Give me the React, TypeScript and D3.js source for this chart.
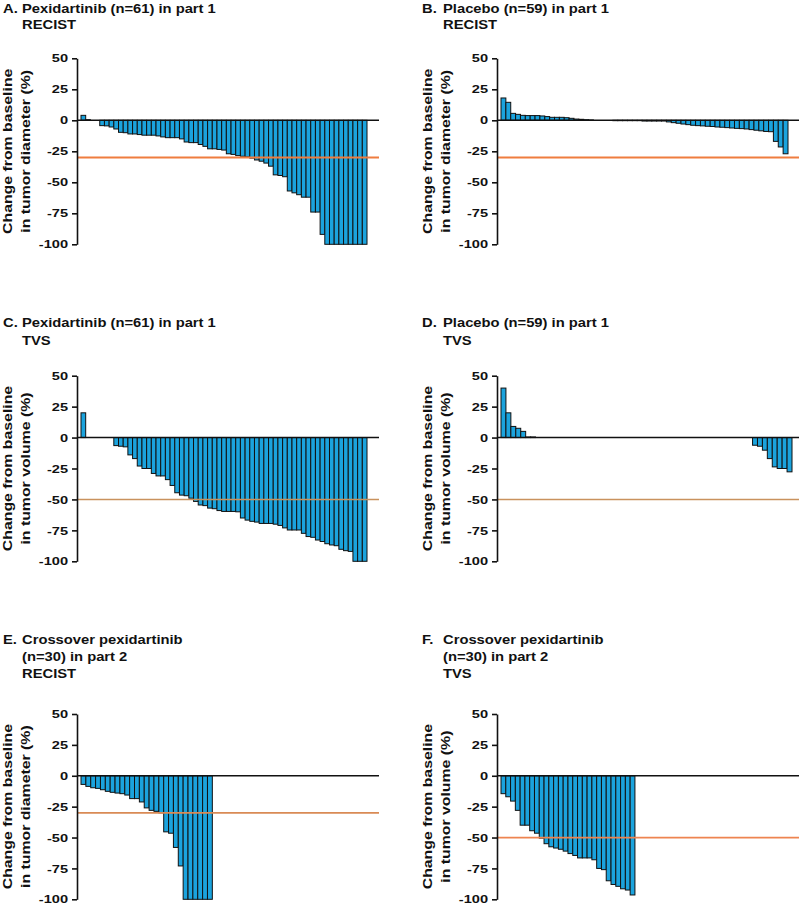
import React, { useEffect, useRef } from 'react';
import * as d3 from 'd3';

// y axis ticks shared by every panel
const yTicks = [50, 25, 0, -25, -50, -75, -100];

// A. pexidartinib, RECIST (n=61)
const pexRecist = [
  4, 0.5, 0, 0, -4.3, -4.5, -5.4, -7, -9.7, -10, -11, -11, -11.5, -12, -12, -12, -12.6, -13.4, -14, -14,
  -14, -15, -17.5, -18, -18, -19.5, -21, -23, -23, -23.5, -24, -27, -27.5, -28.5, -29, -29.5, -30.5, -32, -33, -34.5,
  -37, -44, -44.5, -45.5, -57, -58.5, -60, -62, -62, -74, -74, -92, -100, -100, -100, -100, -100, -100, -100, -100,
  -100,
];

// B. placebo, RECIST (n=59)
const plaRecist = [
  18, 14.5, 5.6, 4.8, 4, 3.8, 3.8, 3.8, 3.5, 3, 2.4, 2.4, 2.4, 2.1, 1.6, 1, 0.8, 0.5, 0.3, 0,
  0, 0, 0, -0.3, -0.3, -0.3, -0.3, -0.3, -0.3, -0.6, -0.6, -0.6, -0.6, -0.6, -1.3, -1.9, -2.4, -3, -3.5, -4,
  -4.3, -4.5, -4.8, -5, -5.4, -5.6, -5.9, -6.2, -6.5, -6.7, -7, -7.5, -8, -8.5, -9, -9.2, -17, -21.5, -27,
];

// C. pexidartinib, TVS (n=61)
const pexTvs = [
  20, 0, 0, 0, 0, 0, 0, -6.5, -7, -7.5, -14, -17, -23, -25, -25, -29, -31, -31, -34, -38.7,
  -44.6, -46.5, -47, -49, -51.6, -54.5, -55, -57, -57.5, -59, -59.7, -59.7, -59.7, -60, -65, -66.7, -67.7, -68.3, -69.4, -69.4,
  -69.4, -70, -71, -73, -74.7, -74.7, -74.7, -77.4, -80, -80.6, -82.8, -84, -85.8, -86.8, -87.4, -90.3, -91.4, -92, -100, -100,
  -100,
];

// D. placebo, TVS (n=59)
const plaTvs = [
  40, 20, 9, 7.5, 5, 0.5, 0.5, 0, 0, 0, 0, 0, 0, 0, 0, 0, 0, 0, 0, 0,
  0, 0, 0, 0, 0, 0, 0, 0, 0, 0, 0, 0, 0, 0, 0, 0, 0, 0, 0, 0,
  0, 0, 0, 0, 0, 0, 0, 0, 0, 0, 0, -6.2, -7, -10.2, -17, -23.7, -25, -25, -27.7,
];

// E. crossover, RECIST
const crossRecist = [
  -7, -8.6, -9.7, -10.2, -11.3, -12.6, -13.4, -14, -14.5, -15.6, -18.5, -18.5, -21.2, -26, -28, -28.8, -30, -45.4, -46.5, -58,
  -73, -100, -100, -100, -100, -100, -100,
];

// F. crossover, TVS
const crossTvs = [
  -14.5, -17, -20.5, -28, -40, -40, -44.5, -46.5, -50.5, -55, -57.5, -58.5, -59.5, -61, -63, -64.5, -66.5, -66.5, -66.5, -68,
  -75, -76, -85, -88, -89.5, -91.5, -92.5, -96.5,
];

const FONT = '"Liberation Sans", Arial, sans-serif';
const BAR = '#1BA3DD';

const panels = [
  { letter: 'A.', col: 0, row: 0, title: ['Pexidartinib (n=61) in part 1', 'RECIST'], label: 'in tumor diameter (%)',
    values: pexRecist, slots: 61, plotW: 286, cut: -30, cutColor: '#EF7D3F', cutW: 2 },
  { letter: 'B.', col: 1, row: 0, title: ['Placebo (n=59) in part 1', 'RECIST'], label: 'in tumor diameter (%)',
    values: plaRecist, slots: 59, plotW: 287, cut: -30, cutColor: '#EF7D3F', cutW: 2 },
  { letter: 'C.', col: 0, row: 1, title: ['Pexidartinib (n=61) in part 1', 'TVS'], label: 'in tumor volume (%)',
    values: pexTvs, slots: 61, plotW: 286, cut: -50, cutColor: '#C9925E', cutW: 1.6 },
  { letter: 'D.', col: 1, row: 1, title: ['Placebo (n=59) in part 1', 'TVS'], label: 'in tumor volume (%)',
    values: plaTvs, slots: 59, plotW: 291, cut: -50, cutColor: '#C9925E', cutW: 1.6 },
  { letter: 'E.', col: 0, row: 2, title: ['Crossover pexidartinib', '(n=30) in part 2', 'RECIST'], label: 'in tumor diameter (%)',
    values: crossRecist, slots: 59, plotW: 287, cut: -30, cutColor: '#D98A55', cutW: 1.8 },
  { letter: 'F.', col: 1, row: 2, title: ['Crossover pexidartinib', '(n=30) in part 2', 'TVS'], label: 'in tumor volume (%)',
    values: crossTvs, slots: 60, plotW: 287, cut: -50, cutColor: '#EE8450', cutW: 1.8 },
];

const axisXs = [77, 497];
const rows = [
  { top: 58.3, bottom: 244.3, titleY: [12.7, 29.3] },
  { top: 375.7, bottom: 561.3, titleY: [327.3, 344.5] },
  { top: 714, bottom: 899.3, titleY: [644.3, 661.3, 678.3] },
];

function drawPanel(svg: any, p: any) {
  const axisX = axisXs[p.col];
  const row = rows[p.row];
  const g = svg.append('g');

  const y = d3.scaleLinear().domain([-100, 50]).range([row.bottom, row.top]);
  const x = d3.scaleBand<number>()
    .domain(d3.range(p.slots))
    .range([axisX + 4, axisX + 4 + p.plotW]);

  // title
  const letterX = p.col === 0 ? 3 : 422;
  const textX = p.col === 0 ? 22 : 443;
  const hText = (tx: number, ty: number, s: string) =>
    g.append('text')
      .attr('transform', `translate(${tx},${ty}) scale(1.23,1)`)
      .attr('font-family', FONT)
      .attr('font-weight', 'bold')
      .attr('font-size', 12)
      .attr('fill', '#111')
      .text(s);
  hText(letterX, row.titleY[0], p.letter);
  p.title.forEach((line: string, i: number) => hText(textX, row.titleY[i], line));

  // y label, two lines
  const yMid = (row.top + row.bottom) / 2;
  [['Change from baseline', 64.7], [p.label, 46.8]].forEach(([s, off]: any) => {
    g.append('text')
      .attr('transform', `translate(${axisX - off},${yMid}) rotate(-90) scale(1.32,1.05)`)
      .attr('text-anchor', 'middle')
      .attr('font-family', FONT)
      .attr('font-weight', 'bold')
      .attr('font-size', 12)
      .attr('fill', '#111')
      .text(s);
  });

  // bars
  g.append('g')
    .selectAll('rect')
    .data(p.values)
    .join('rect')
    .attr('x', (d: number, i: number) => x(i))
    .attr('y', (d: number) => y(Math.max(0, d)))
    .attr('width', x.bandwidth())
    .attr('height', (d: number) => Math.abs(y(d) - y(0)))
    .attr('fill', BAR)
    .attr('stroke', '#111')
    .attr('stroke-width', 1);

  // zero line
  g.append('line')
    .attr('x1', axisX).attr('x2', axisX + 302)
    .attr('y1', y(0)).attr('y2', y(0))
    .attr('stroke', '#111').attr('stroke-width', 1.5);

  // response threshold
  g.append('line')
    .attr('x1', axisX).attr('x2', axisX + 302)
    .attr('y1', y(p.cut)).attr('y2', y(p.cut))
    .attr('stroke', p.cutColor).attr('stroke-width', p.cutW);

  // y axis
  const ax = g.append('g')
    .attr('transform', `translate(${axisX},0)`)
    .call(d3.axisLeft(y).tickValues(yTicks).tickSize(5).tickSizeOuter(0).tickFormat((d: any) => String(d)));
  ax.attr('font-family', FONT).attr('font-size', 11.5);
  ax.select('.domain').attr('stroke', '#111').attr('stroke-width', 1.6);
  ax.selectAll('.tick line').attr('stroke', '#111').attr('stroke-width', 1.6);
  ax.selectAll('.tick text')
    .attr('x', -9 / 1.27)
    .attr('transform', 'scale(1.27,1)')
    .attr('font-weight', 'bold')
    .attr('fill', '#111');
}

export default function App() {
  const ref = useRef<SVGSVGElement>(null);

  useEffect(() => {
    const svg = d3.select(ref.current);
    svg.selectAll('*').remove();
    panels.forEach(p => drawPanel(svg, p));
  }, []);

  return (
    <svg
      ref={ref}
      width={800}
      height={905}
      style={{ position: 'absolute', left: 0, top: 0, background: 'white' }}
    />
  );
}
